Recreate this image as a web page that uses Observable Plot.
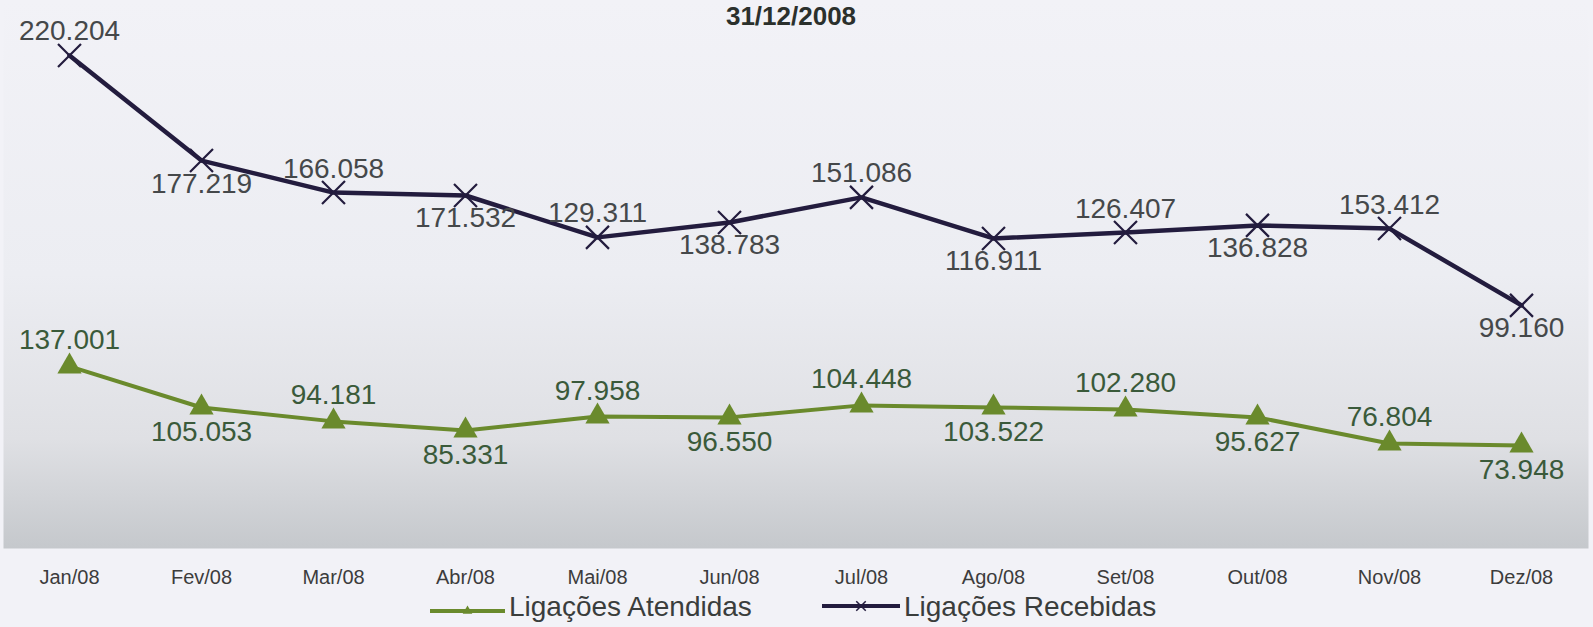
<!DOCTYPE html>
<html>
<head>
<meta charset="utf-8">
<script src="https://cdn.jsdelivr.net/npm/d3@7"></script>
<script src="https://cdn.jsdelivr.net/npm/@observablehq/plot@0.6"></script>
<style>
  body { margin: 0; background: #f2f2f7; }
  #wrap { position: relative; width: 1593px; height: 627px; overflow: hidden; font-family: "Liberation Sans", Arial, sans-serif; }
  #chart { position: absolute; left: 0; top: 0; }
  #title { position: absolute; left: 0; width: 1582px; top: 1px; text-align: center; font-size: 26px; line-height: 30px; font-weight: bold; color: #2b302c; }
  .leg { position: absolute; top: 593px; font-size: 28px; line-height: 28px; color: #3a3d3c; white-space: nowrap; display: flex; align-items: center; }
  .leg svg { display: block; }
</style>
</head>
<body>
<div id="wrap">
  <div id="chart"></div>
  <div id="title">31/12/2008</div>
  <div id="legend"></div>
</div>
<script>
// ---- data ----
const meses = ["Jan/08","Fev/08","Mar/08","Abr/08","Mai/08","Jun/08","Jul/08","Ago/08","Set/08","Out/08","Nov/08","Dez/08"];
// values printed on the chart
const recebidas = [220204, 177219, 166058, 171532, 129311, 138783, 151086, 116911, 126407, 136828, 153412, 99160];
const atendidas = [137001, 105053, 94181, 85331, 97958, 96550, 104448, 103522, 102280, 95627, 76804, 73948];
// heights at which the points are drawn in the picture (thousands, common scale)
const recebidasNivel = [220.2, 180.8, 168.8, 167.7, 152.0, 157.6, 167.0, 151.6, 153.8, 156.5, 155.3, 126.5];
const atendidasNivel = [103.6, 88.2, 83.0, 79.6, 84.8, 84.5, 89.0, 88.2, 87.5, 84.5, 74.7, 74.0];
// label side relative to each point
const rotuloLado = ["acima","abaixo","acima","abaixo","acima","abaixo","acima","abaixo","acima","abaixo","acima","abaixo"];
const series = ["Ligações Atendidas", "Ligações Recebidas"];
const cores = ["#6a8a2c", "#231c3e"];
const titulo = "31/12/2008";

const fmt = v => d3.format(",")(v).replace(/,/g, ".");

const rec = meses.map((m, i) => ({mes: m, valor: recebidas[i], nivel: recebidasNivel[i], lado: rotuloLado[i]}));
const ate = meses.map((m, i) => ({mes: m, valor: atendidas[i], nivel: atendidasNivel[i], lado: rotuloLado[i]}));

const font = "Liberation Sans, Arial, sans-serif";
const labelOpts = (lado, dy, fill) => ({
  x: "mes", y: "nivel", text: d => fmt(d.valor), dy, fill,
  fontSize: 28, fontFamily: font, filter: d => d.lado === lado
});

const plot = Plot.plot({
  width: 1593,
  height: 627,
  marginLeft: 1,
  marginRight: 5,
  marginTop: 0,
  marginBottom: 79,
  style: {background: "transparent", fontFamily: font},
  x: {type: "point", domain: meses, padding: 0.5, label: null},
  y: {domain: [35.33, 240.83], axis: null},
  marks: [
    Plot.frame({fill: "url(#bgGrad)", insetLeft: 2}),
    Plot.axisX({tickSize: 0, tickPadding: 21, fontSize: 20, fill: "#3c3c3c", label: null}),
    Plot.line(ate, {x: "mes", y: "nivel", stroke: cores[0], strokeWidth: 4}),
    Plot.dot(ate, {x: "mes", y: "nivel", symbol: "triangle", r: 9, fill: cores[0]}),
    Plot.line(rec, {x: "mes", y: "nivel", stroke: cores[1], strokeWidth: 4.5}),
    Plot.dot(rec, {x: "mes", y: "nivel", symbol: "times", r: 10.5, stroke: cores[1], strokeWidth: 2.2}),
    Plot.text(rec, labelOpts("acima", -24, "#45484a")),
    Plot.text(rec, labelOpts("abaixo", 23, "#45484a")),
    Plot.text(ate, labelOpts("acima", -26, "#3a5a3a")),
    Plot.text(ate, labelOpts("abaixo", 25, "#3a5a3a"))
  ]
});

d3.select(plot).insert("defs", ":first-child").html(`
  <linearGradient id="bgGrad" x1="0" y1="0" x2="0" y2="1">
    <stop offset="0" stop-color="#f2f2f7"/>
    <stop offset="0.5" stop-color="#ecedf2"/>
    <stop offset="0.8" stop-color="#dfe0e4"/>
    <stop offset="1" stop-color="#c5c8cc"/>
  </linearGradient>`);

document.getElementById("chart").appendChild(plot);
document.getElementById("title").textContent = titulo;

// legend
const legend = document.getElementById("legend");
const legLefts = [430, 822];
const legWidths = [75, 78];
const legYs = [18, 13];
series.forEach((s, i) => {
  const div = document.createElement("div");
  div.className = "leg";
  div.style.left = legLefts[i] + "px";
  const w = legWidths[i];
  const sw = d3.create("svg").attr("width", w + 4).attr("height", 28);
  sw.append("line").attr("x1", 0).attr("x2", w).attr("y1", legYs[i]).attr("y2", legYs[i])
    .attr("stroke", cores[i]).attr("stroke-width", 4);
  const sym = d3.symbol().type(i === 0 ? d3.symbolTriangle : d3.symbolTimes).size(i === 0 ? 40 : 60)();
  sw.append("path").attr("d", sym).attr("transform", `translate(${w / 2},${legYs[i]})`)
    .attr("fill", i === 0 ? cores[i] : "none").attr("stroke", i === 0 ? "none" : cores[i]).attr("stroke-width", 1.5);
  div.appendChild(sw.node());
  const t = document.createElement("span");
  t.textContent = s;
  div.appendChild(t);
  legend.appendChild(div);
});
</script>
</body>
</html>
